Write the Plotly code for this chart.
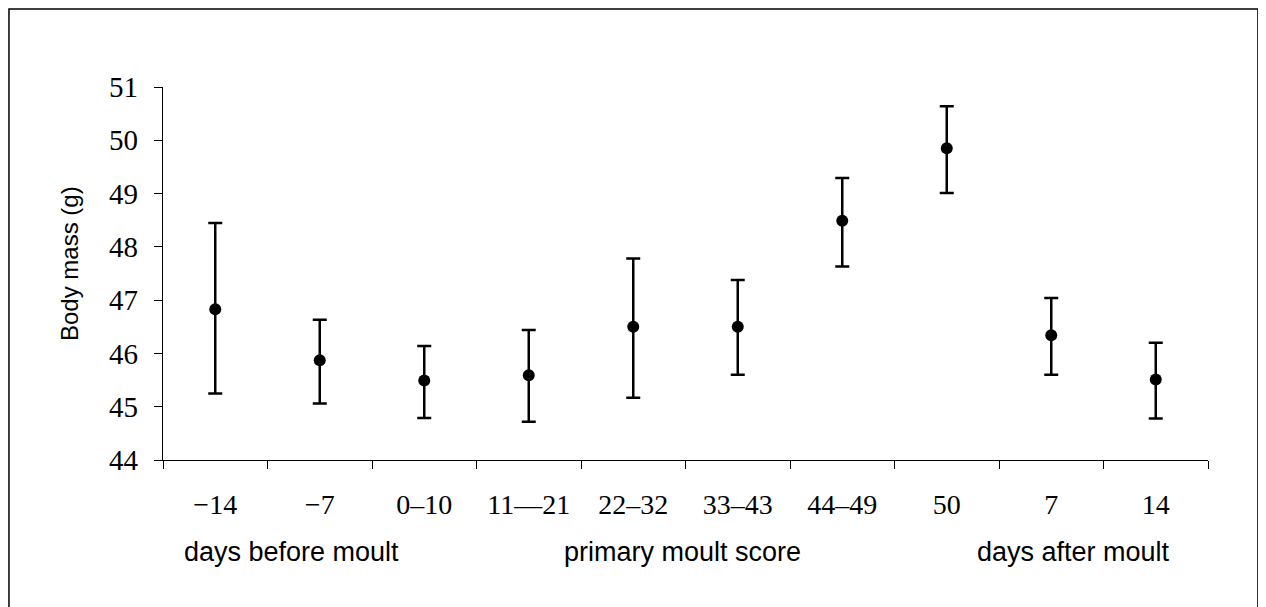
import plotly.graph_objects as go

categories = ["\u221214", "\u22127", "0\u201310", "11\u201421", "22\u201332", "33\u201343", "44\u201349", "50", "7", "14"]
mean_mass = [46.83, 45.87, 45.49, 45.59, 46.50, 46.50, 48.49, 49.85, 46.34, 45.51]
upper_bound = [48.45, 46.63, 46.14, 46.44, 47.78, 47.38, 49.29, 50.64, 47.04, 46.20]
lower_bound = [45.25, 45.06, 44.79, 44.72, 45.17, 45.60, 47.63, 49.01, 45.60, 44.78]
y_ticks = [44, 45, 46, 47, 48, 49, 50, 51]
group_labels = ["days before moult", "primary moult score", "days after moult"]
group_centers = [0.73, 4.47, 8.21]

err_plus = [u - m for u, m in zip(upper_bound, mean_mass)]
err_minus = [m - l for m, l in zip(mean_mass, lower_bound)]

fig = go.Figure()
fig.add_trace(go.Scatter(
    x=categories, y=mean_mass, mode="markers",
    marker=dict(color="black", size=12),
    error_y=dict(type="data", symmetric=False, array=err_plus, arrayminus=err_minus,
                 color="black", thickness=2.5, width=7),
    showlegend=False,
))

fig.update_layout(
    width=1258, height=599,
    margin=dict(l=155, r=58, t=79, b=147),
    paper_bgcolor="white", plot_bgcolor="white",
    font=dict(family="Liberation Serif", color="black"),
)
fig.update_xaxes(
    type="category", tickson="boundaries", ticks="outside", ticklen=8, tickwidth=1.2,
    tickcolor="black", showline=True, linecolor="black", linewidth=1.2,
    showgrid=False, zeroline=False, range=[-0.5, 9.5],
    tickfont=dict(family="Liberation Serif", size=28, color="black"),
    ticklabelstandoff=19,
)
fig.update_yaxes(
    range=[44, 51], tickvals=y_ticks, ticks="outside", ticklen=8, tickwidth=1.2,
    tickcolor="black", showline=True, linecolor="black", linewidth=1.2,
    showgrid=False, zeroline=False,
    tickfont=dict(family="Liberation Serif", size=29, color="black"),
    ticklabelstandoff=10,
)

fig.add_annotation(text="Body mass (g)", xref="paper", yref="paper", x=-0.09, y=0.528,
                   textangle=-90, showarrow=False, xanchor="center", yanchor="middle",
                   font=dict(family="Liberation Sans", size=24, color="black"))
for lab, cx in zip(group_labels, group_centers):
    fig.add_annotation(text=lab, xref="x", yref="paper", x=cx, y=-0.247,
                       showarrow=False, xanchor="center", yanchor="middle",
                       font=dict(family="Liberation Sans", size=27, color="black"))

fig.add_shape(type="rect", xref="paper", yref="paper", x0=-0.1474, x1=1.0478, y0=-0.42, y1=1.209,
              line=dict(color="black", width=1.5), fillcolor="rgba(0,0,0,0)")

fig.write_html("out.html")
